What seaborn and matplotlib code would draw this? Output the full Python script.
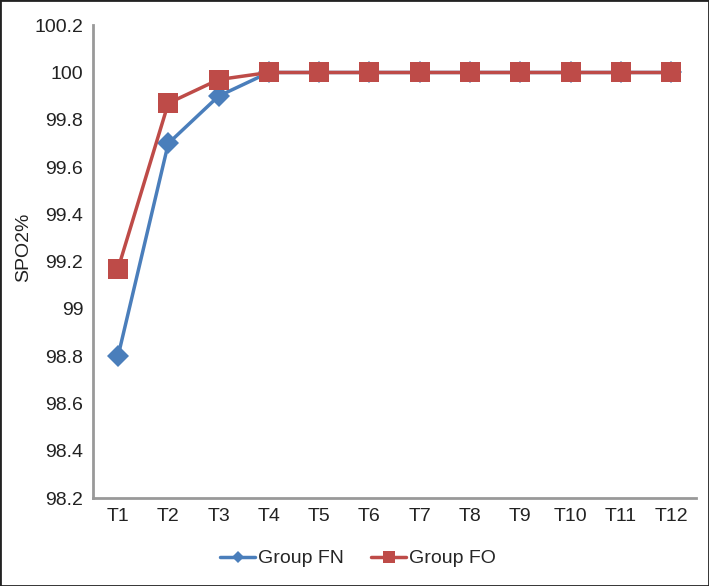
import matplotlib

matplotlib.use("Agg")
import matplotlib.pyplot as plt
import pandas as pd
import seaborn as sns
from matplotlib.patches import Rectangle

TIMES = ["T1", "T2", "T3", "T4", "T5", "T6", "T7", "T8", "T9", "T10", "T11", "T12"]
GROUP_FN = [98.8, 99.7, 99.9, 100, 100, 100, 100, 100, 100, 100, 100, 100]
GROUP_FO = [99.17, 99.87, 99.97, 100, 100, 100, 100, 100, 100, 100, 100, 100]
Y_TICKS = [98.2, 98.4, 98.6, 98.8, 99, 99.2, 99.4, 99.6, 99.8, 100, 100.2]

sns.set_theme(style="white")
plt.rcParams["font.family"] = ["Liberation Sans", "DejaVu Sans"]

FS = 14

df = pd.DataFrame({
    "pos": list(range(len(TIMES))) * 2,
    "value": GROUP_FN + GROUP_FO,
    "group": ["Group FN"] * len(TIMES) + ["Group FO"] * len(TIMES),
})

fig = plt.figure(figsize=(7.09, 5.86), dpi=100)
ax = fig.add_axes([0.131, 0.150, 0.851, 0.807])

sns.lineplot(
    data=df, x="pos", y="value", hue="group", style="group",
    palette={"Group FN": "#4A7EBB", "Group FO": "#BE4B48"},
    markers={"Group FN": "D", "Group FO": "s"},
    dashes=False, linewidth=2.5, markeredgewidth=0, markersize=11,
    ax=ax,
)
# squares need to be a bit bigger than the diamonds
for line in ax.lines:
    if line.get_marker() == "s":
        line.set_markersize(14)

ax.set_xlim(-0.5, len(TIMES) - 0.5)
ax.set_ylim(98.2, 100.2)
ax.set_yticks(Y_TICKS)
ax.set_yticklabels([f"{v:g}" for v in Y_TICKS], fontsize=FS, color="#222222")
ax.set_xticks([i - 0.5 for i in range(len(TIMES) + 1)])
ax.set_xticklabels([])
ax.set_xticks(range(len(TIMES)), minor=True)
ax.set_xticklabels(TIMES, minor=True, fontsize=FS, color="#222222")
ax.tick_params(axis="x", which="major", length=6, width=1.5, color="#999999", direction="out")
ax.tick_params(axis="x", which="minor", length=0, pad=7)
ax.tick_params(axis="y", length=6, width=1.5, color="#999999", direction="out", pad=1)
ax.set_xlabel("")
ax.set_ylabel("SPO2%", fontsize=FS, color="#222222")
ax.yaxis.set_label_coords(-0.10, 0.53)

for side in ["top", "right"]:
    ax.spines[side].set_visible(False)
for side in ["left", "bottom"]:
    ax.spines[side].set_color("#999999")
    ax.spines[side].set_linewidth(2)

handles, labels = ax.get_legend_handles_labels()
ax.legend(
    handles, labels, loc="center", bbox_to_anchor=(0.44, -0.128),
    ncol=2, frameon=False, fontsize=FS, handlelength=1.8,
    handletextpad=0.15, columnspacing=1.4, markerscale=0.6,
)

fig.patches.append(Rectangle((0, 0), 1, 1, transform=fig.transFigure,
                             fill=False, edgecolor="#222222", linewidth=2))

fig.savefig("out.png", dpi=100)
